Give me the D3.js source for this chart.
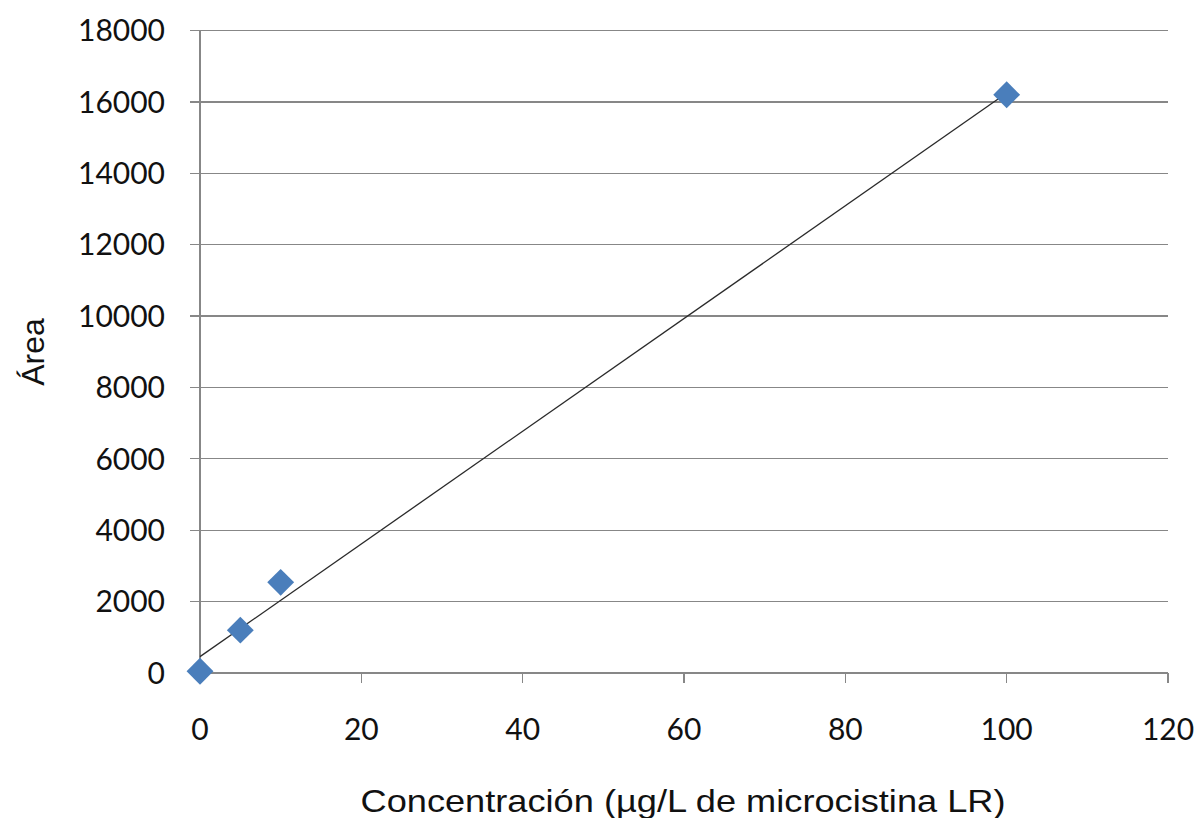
<!DOCTYPE html>
<html>
<head>
<meta charset="utf-8">
<script src="https://cdn.jsdelivr.net/npm/d3@7"></script>
<style>
  html, body { margin: 0; padding: 0; background: #fff; }
  svg { display: block; }
</style>
</head>
<body>
<svg id="chart" width="1197" height="818"></svg>
<script>
// Calibration points: concentration (µg/L microcystin LR) vs peak area
const concentration = [0, 5, 10, 100];
const area = [50, 1200, 2540, 16200];
const xTicks = [0, 20, 40, 60, 80, 100, 120];
const yTicks = [0, 2000, 4000, 6000, 8000, 10000, 12000, 14000, 16000, 18000];
const xTitle = "Concentración (µg/L de microcistina LR)";
const yTitle = "Área";

const svg = d3.select("#chart");
const plotLeft = 200, plotRight = 1168, plotTop = 30.5, plotBottom = 673;

const x = d3.scaleLinear().domain([0, 120]).range([plotLeft, plotRight]);
const y = d3.scaleLinear().domain([0, 18000]).range([plotBottom, plotTop]);

const gridColor = "#878787";
const tickFont = "Lato, 'Open Sans', sans-serif";

// Horizontal gridlines (extend left as tick marks)
svg.append("g").selectAll("line").data(yTicks).join("line")
  .attr("x1", plotLeft - 10).attr("x2", plotRight)
  .attr("y1", d => y(d)).attr("y2", d => y(d))
  .attr("stroke", gridColor).attr("stroke-width", 1.3)
  .attr("shape-rendering", "crispEdges");

// Vertical axis line
svg.append("line")
  .attr("x1", plotLeft).attr("x2", plotLeft).attr("y1", plotTop).attr("y2", plotBottom)
  .attr("stroke", gridColor).attr("stroke-width", 1.3)
  .attr("shape-rendering", "crispEdges");

// X tick marks below the axis
svg.append("g").selectAll("line").data(xTicks).join("line")
  .attr("x1", d => x(d)).attr("x2", d => x(d))
  .attr("y1", plotBottom).attr("y2", plotBottom + 10)
  .attr("stroke", gridColor).attr("stroke-width", 1.3)
  .attr("shape-rendering", "crispEdges");

// Y tick labels
svg.append("g").selectAll("text").data(yTicks).join("text")
  .attr("x", 165).attr("y", d => y(d))
  .attr("dy", "0.36em")
  .attr("text-anchor", "end")
  .attr("font-family", tickFont).attr("font-size", 30)
  .attr("fill", "#111")
  .text(d => d);

// X tick labels
svg.append("g").selectAll("text").data(xTicks).join("text")
  .attr("x", d => x(d)).attr("y", 729)
  .attr("dy", "0.36em")
  .attr("text-anchor", "middle")
  .attr("font-family", tickFont).attr("font-size", 30)
  .attr("fill", "#111")
  .text(d => d);

// Linear trendline (least squares fit)
const n = concentration.length;
const mx = d3.mean(concentration), my = d3.mean(area);
let sxy = 0, sxx = 0;
for (let i = 0; i < n; i++) {
  sxy += (concentration[i] - mx) * (area[i] - my);
  sxx += (concentration[i] - mx) ** 2;
}
const slope = sxy / sxx, intercept = my - slope * mx;
const x0 = d3.min(concentration), x1 = d3.max(concentration);
svg.append("line")
  .attr("x1", x(x0)).attr("y1", y(intercept + slope * x0))
  .attr("x2", x(x1)).attr("y2", y(intercept + slope * x1))
  .attr("stroke", "#2a2a2a").attr("stroke-width", 1.3);

// Diamond markers
const diamond = d3.symbol().type(d3.symbolSquare).size(19 * 19);
svg.append("g").selectAll("path").data(concentration.map((c, i) => [c, area[i]])).join("path")
  .attr("d", diamond)
  .attr("transform", d => `translate(${x(d[0])},${y(d[1])}) rotate(45)`)
  .attr("fill", "#4A7EBB");

// Axis titles
svg.append("text")
  .attr("x", 683).attr("y", 812)
  .attr("text-anchor", "middle")
  .attr("font-family", "'Liberation Sans', Arial, sans-serif")
  .attr("font-size", 32)
  .attr("textLength", 645).attr("lengthAdjust", "spacingAndGlyphs")
  .attr("fill", "#111")
  .text(xTitle);

svg.append("text")
  .attr("transform", "translate(44,352) rotate(-90)")
  .attr("text-anchor", "middle")
  .attr("font-family", "'Liberation Sans', Arial, sans-serif")
  .attr("font-size", 32)
  .attr("fill", "#111")
  .text(yTitle);
</script>
</body>
</html>
